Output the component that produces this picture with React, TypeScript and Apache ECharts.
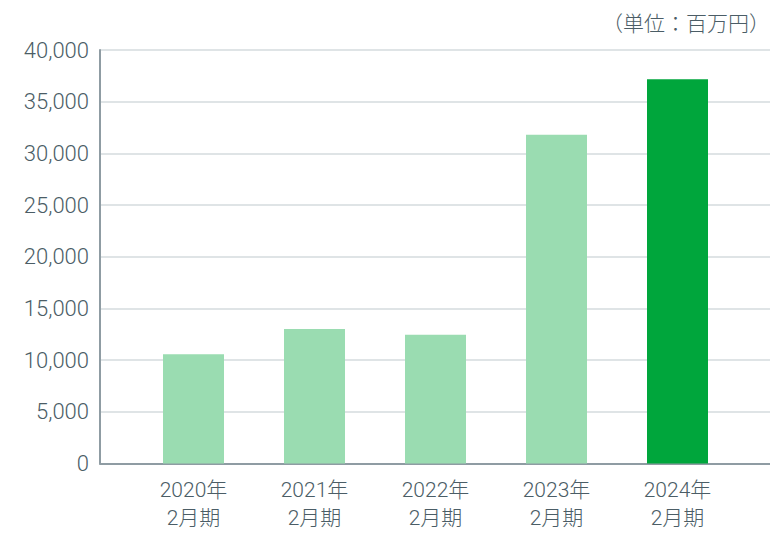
import React, { useEffect, useRef } from "react";
import * as echarts from "echarts";

const categories = ["2020年\n2月期", "2021年\n2月期", "2022年\n2月期", "2023年\n2月期", "2024年\n2月期"];
const values = [10570, 13010, 12460, 31790, 37180];
const barColors = ["#9adcb1", "#9adcb1", "#9adcb1", "#9adcb1", "#00a63c"];
const unitLabel = "（単位：百万円）";

const FONT = "Roboto, 'Noto Sans CJK JP', sans-serif";
const TEXT_COLOR = "#4b5d66";

export default function App() {
  const ref = useRef<HTMLDivElement>(null);
  useEffect(() => {
    if (!ref.current) return;
    const chart = echarts.init(ref.current, undefined, { renderer: "svg" });
    chart.setOption({
      animation: false,
      backgroundColor: "#ffffff",
      textStyle: { fontFamily: FONT },
      graphic: [
        {
          type: "text",
          right: 0,
          top: 13,
          style: {
            text: unitLabel,
            font: `300 21px ${FONT}`,
            fill: TEXT_COLOR,
          },
        },
      ],
      grid: [
        { left: 100, right: 0, top: 50, bottom: 72.5 },
        { left: 133, right: 32, top: 50, bottom: 72.5 },
      ],
      xAxis: [
        {
          gridIndex: 0,
          type: "value",
          min: 0,
          max: 1,
          axisLine: { show: true, lineStyle: { color: "#8f9ca3", width: 2 } },
          axisTick: { show: false },
          axisLabel: { show: false },
          splitLine: { show: false },
        },
        {
          gridIndex: 1,
          type: "category",
          data: categories,
          axisLine: { show: false },
          axisTick: { show: false },
          axisLabel: {
            margin: 12,
            color: TEXT_COLOR,
            fontSize: 21,
            fontWeight: 300,
            fontFamily: FONT,
            lineHeight: 28,
          },
        },
      ],
      yAxis: [
        {
          gridIndex: 0,
          type: "value",
          min: 0,
          max: 40000,
          interval: 5000,
          axisLine: { show: true, lineStyle: { color: "#8f9ca3", width: 2 } },
          axisTick: { show: false },
          axisLabel: {
            margin: 11,
            color: TEXT_COLOR,
            fontSize: 22,
            fontWeight: 300,
            fontFamily: FONT,
            formatter: (v: number) => v.toLocaleString("en-US"),
          },
          splitLine: { show: true, lineStyle: { color: "#d5dbde", width: 1.5 } },
        },
        {
          gridIndex: 1,
          type: "value",
          min: 0,
          max: 40000,
          show: false,
        },
      ],
      series: [
        {
          type: "bar",
          xAxisIndex: 1,
          yAxisIndex: 1,
          barWidth: 61,
          data: values.map((v, i) => ({ value: v, itemStyle: { color: barColors[i] } })),
        },
      ],
    });
    return () => chart.dispose();
  }, []);
  return (
    <div
      ref={ref}
      style={{ position: "fixed", left: 0, top: 0, width: 770, height: 536 }}
    />
  );
}
